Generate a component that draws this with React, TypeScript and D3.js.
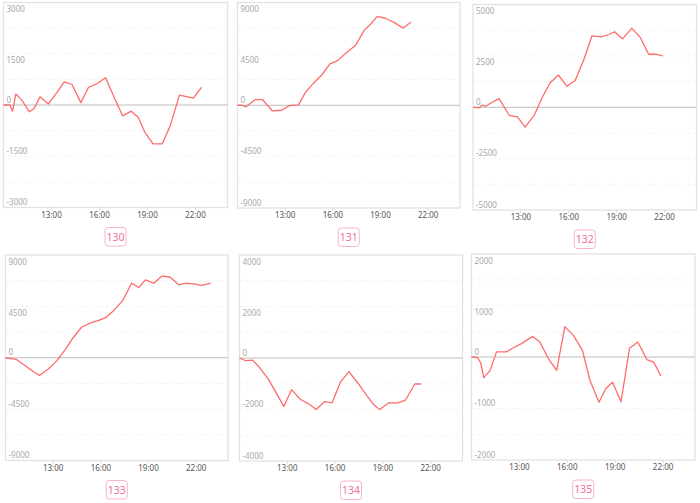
import React from "react";
import * as d3 from "d3";

const panelNames = ["130", "131", "132", "133", "134", "135"];
const yMaxes = [3000, 9000, 5000, 9000, 4000, 2000];
const xTickLabels = ["13:00", "16:00", "19:00", "22:00"];

const t130 = ["10:00","10:24","10:34","10:46","11:08","11:37","11:55","12:17","12:48","13:20","13:48","14:17","14:50","15:19","15:50","16:23","16:54","17:27","17:59","18:25","18:50","19:21","19:55","20:26","21:00","21:52","22:23"];
const v130 = [0,0,-180,320,150,-200,-100,240,30,360,680,600,70,520,620,800,240,-320,-180,-360,-800,-1140,-1140,-590,290,200,520];

const t131 = ["10:00","10:16","10:31","11:07","11:34","12:12","12:47","13:15","13:50","14:17","14:46","15:18","15:49","16:18","16:52","17:26","17:58","18:23","18:48","19:18","19:51","20:25","20:56"];
const v131 = [0,0,-150,500,500,-500,-440,-30,30,1150,1910,2650,3620,3910,4620,5260,6560,7120,7790,7620,7260,6760,7290];

const t132 = ["10:00","10:23","10:35","10:48","11:10","11:38","12:16","12:47","13:16","13:51","14:21","14:50","15:21","15:53","16:24","16:55","17:27","18:02","18:30","18:52","19:22","19:57","20:29","21:00","21:25","21:53"];
const v132 = [0,-30,100,50,230,420,-390,-470,-970,-370,500,1190,1570,1020,1300,2260,3470,3420,3540,3670,3330,3850,3390,2580,2580,2500];

const t133 = ["10:00","10:41","11:16","11:51","12:09","12:43","13:15","13:46","14:14","14:47","15:21","15:52","16:20","16:52","17:23","17:56","18:23","18:48","19:20","19:51","20:22","20:54","21:22","21:50","22:21","22:55"];
const v133 = [0,-150,-730,-1310,-1540,-960,-230,730,1710,2670,3050,3280,3540,4210,5020,6530,6150,6820,6530,7170,7050,6390,6530,6470,6330,6530];

const t134 = ["10:00","10:23","10:48","11:10","11:50","12:47","13:16","13:50","14:19","14:49","15:21","15:49","16:20","16:52","17:27","18:01","18:26","18:48","19:22","19:57","20:25","21:00","21:24"];
const v134 = [0,-100,-80,-300,-840,-1880,-1230,-1610,-1770,-2000,-1690,-1740,-940,-530,-990,-1480,-1820,-2000,-1740,-1740,-1640,-1010,-1010];

const t135 = ["10:00","10:23","10:35","10:46","11:09","11:34","12:12","12:41","13:08","13:50","14:17","14:49","15:20","15:51","16:23","16:57","17:25","17:59","18:25","18:50","19:22","19:54","20:25","20:59","21:25","21:52"];
const v135 = [0,-10,-120,-400,-270,100,100,190,260,400,290,-30,-260,590,420,130,-450,-880,-610,-490,-870,170,290,-50,-100,-370];

const seriesTimes = [t130, t131, t132, t133, t134, t135];
const seriesValues = [v130, v131, v132, v133, v134, v135];

// layout boxes (left, top, right, bottom)
const boxes = [
  [3.5, 2.5, 227.5, 207.5],
  [237.5, 2.5, 460, 208],
  [473, 4.5, 696.5, 210],
  [5.5, 255, 228, 460.5],
  [239.5, 255, 462.5, 461],
  [471.5, 254, 695, 460],
];

const toMin = (s: string) => {
  const [h, m] = s.split(":").map(Number);
  return h * 60 + m;
};

const FONT = "'Noto Sans', 'Open Sans', sans-serif";

function Panel({ idx }: { idx: number }) {
  const [l, t, r, b] = boxes[idx];
  const yMax = yMaxes[idx];
  const x = d3.scaleLinear().domain([600, 1440]).range([l, r]);
  const y = d3.scaleLinear().domain([-yMax, yMax]).range([b, t]);
  const times = seriesTimes[idx];
  const vals = seriesValues[idx];
  const pts: [number, number][] = times.map((tt, i) => [toMin(tt), vals[i]]);
  const line = d3
    .line<[number, number]>()
    .x((d) => x(d[0]))
    .y((d) => y(d[1]));
  const grid = d3.range(-4, 5).map((k) => (k * yMax) / 4);
  const labels = d3.range(-2, 3).map((k) => (k * yMax) / 2);
  const cx = (l + r) / 2;
  return (
    <g>
      {grid
        .filter((g) => g !== 0 && Math.abs(g) !== yMax)
        .map((g) => (
          <line
            key={"g" + g}
            x1={l}
            x2={r}
            y1={y(g)}
            y2={y(g)}
            stroke="#f4f4f4"
            strokeWidth={1}
            strokeDasharray="3,2"
          />
        ))}
      <rect x={l} y={t} width={r - l} height={b - t} fill="none" stroke="#e2e2e2" strokeWidth={1.3} />
      <line x1={l} x2={r} y1={y(0)} y2={y(0)} stroke="#bdbdbd" strokeWidth={1} />
      {labels.map((v) => (
        <text
          key={"l" + v}
          x={l + 3}
          y={v > 0 ? y(v) + 9.5 : y(v) - 2.5}
          fontSize={8}
          fill="#a8a8a8"
          fontFamily={FONT}
        >
          {v}
        </text>
      ))}
      {xTickLabels.map((s) => (
        <g key={s}>
          <line x1={x(toMin(s))} x2={x(toMin(s))} y1={b} y2={b + 3} stroke="#dddddd" />
          <text x={x(toMin(s))} y={b + 10} fontSize={8} fill="#555" textAnchor="middle" fontFamily={FONT}>
            {s}
          </text>
        </g>
      ))}
      <path d={line(pts) || ""} fill="none" stroke="#ff6b6b" strokeWidth={1.3} strokeLinejoin="round" />
      <rect x={cx - 10.5} y={b + 20} width={21} height={18.5} rx={3} fill="#fff" stroke="#f7b4c9" strokeWidth={1} />
      <text x={cx} y={b + 33.3} fontSize={10.5} fill="#ef7199" textAnchor="middle" fontFamily={FONT}>
        {panelNames[idx]}
      </text>
    </g>
  );
}

export default function App() {
  return (
    <svg
      width={700}
      height={503}
      style={{ position: "absolute", left: 0, top: 0, background: "#fff" }}
    >
      <rect x={0} y={0} width={700} height={503} fill="#fff" />
      {panelNames.map((_, i) => (
        <Panel key={i} idx={i} />
      ))}
    </svg>
  );
}
